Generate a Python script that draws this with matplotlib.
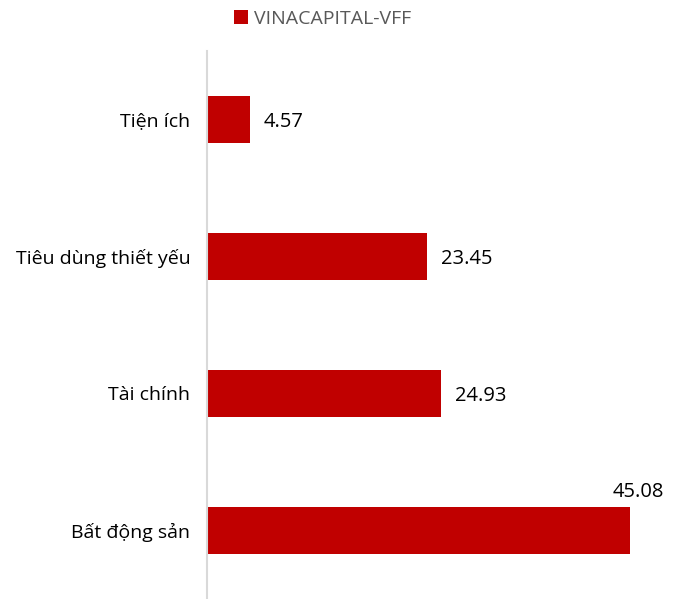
import matplotlib.pyplot as plt

plt.rcParams['font.family'] = ['Open Sans', 'DejaVu Sans']

# data (bottom to top)
categories = ["Bất động sản", "Tài chính", "Tiêu dùng thiết yếu", "Tiện ích"]
values = [45.08, 24.93, 23.45, 4.57]
series_name = "VINACAPITAL-VFF"
bar_color = "#C00000"

fig = plt.figure(figsize=(6.75, 5.99), dpi=100)
ax = fig.add_axes([207/675, 0, 463/675, 548/599])

pos = list(range(len(categories)))
bars = ax.barh(pos, values, height=0.35, color=bar_color, label=series_name)

ax.set_xlim(0, 49.4)
ax.set_ylim(-0.5, 3.5)
ax.set_yticks(pos)
ax.set_yticklabels(categories, fontsize=14, color="#000000")
ax.tick_params(axis='y', length=0, pad=12)
ax.set_xticks([])

for s in ['top', 'right', 'bottom']:
    ax.spines[s].set_visible(False)
ax.spines['left'].set_color("#D9D9D9")
ax.spines['left'].set_linewidth(1.5)

for i, v in enumerate(values):
    if v > 40:
        ax.text(v + 0.9, i + 0.21, f"{v:.2f}", ha='center', va='bottom', fontsize=14.5)
    else:
        ax.text(v + 1.5, i - 0.02, f"{v:.2f}", ha='left', va='center', fontsize=14.5)

fig.legend(handles=[bars], labels=[series_name], loc='center', bbox_to_anchor=(0.478, 1 - 19/599),
           frameon=False, fontsize=14, labelcolor="#595959", handlelength=0.7, handleheight=0.7,
           handletextpad=0.3)

fig.savefig("out.png", dpi=100)
